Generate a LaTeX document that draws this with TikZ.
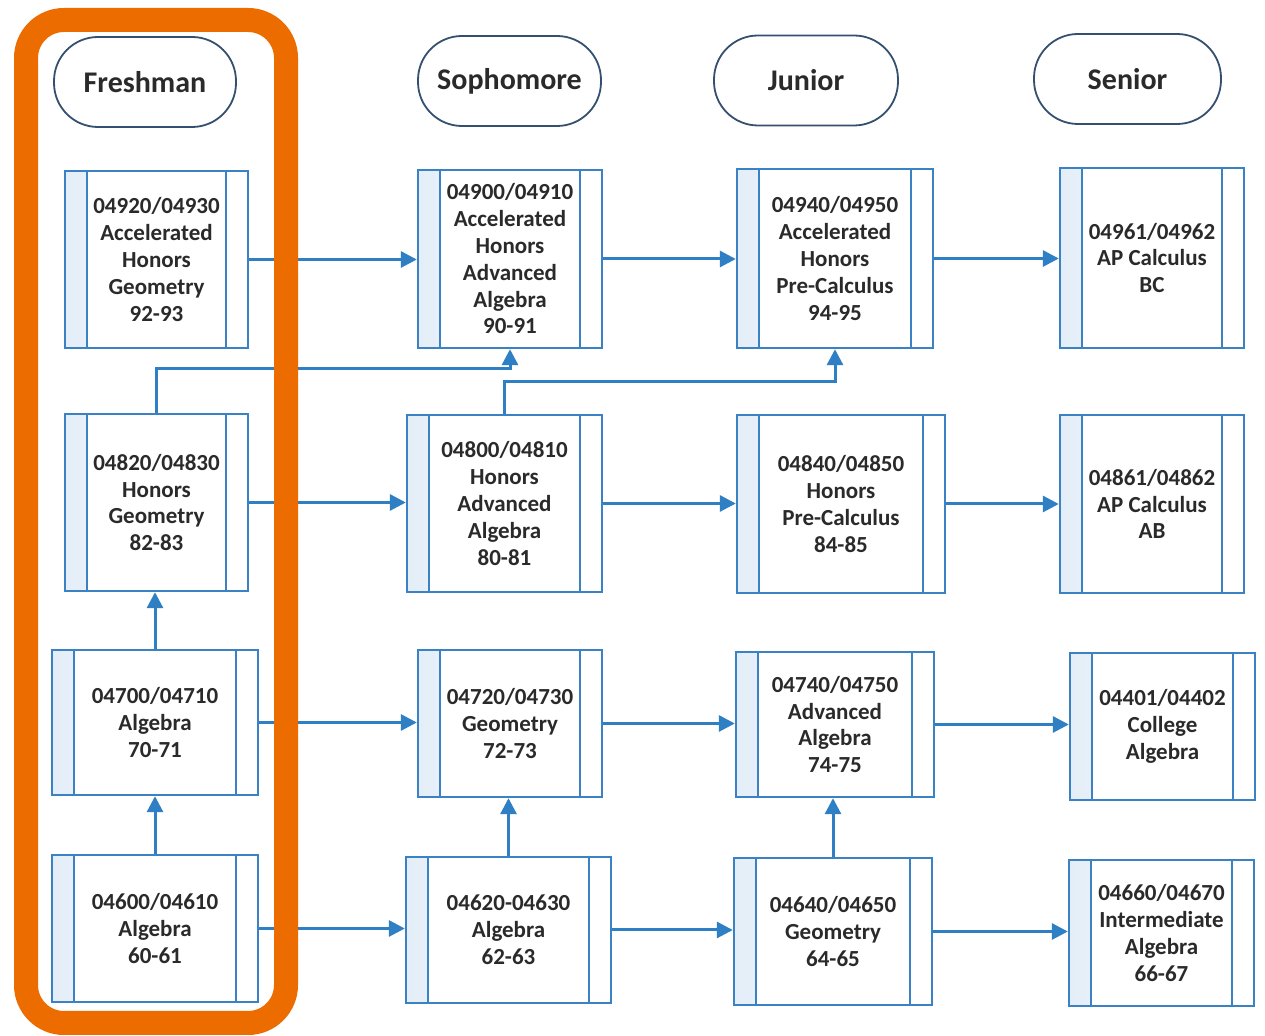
\documentclass[tikz,border=0pt]{standalone}
\usepackage{fontspec}
\setmainfont{Carlito}
\usetikzlibrary{arrows.meta,positioning}
\definecolor{boxblue}{HTML}{3A82C3}
\definecolor{lineblue}{HTML}{2E7FC3}
\definecolor{stripblue}{HTML}{E4EEF8}
\definecolor{ovalline}{HTML}{34506E}
\definecolor{frameorange}{HTML}{EC6C00}
\definecolor{textgray}{HTML}{2A2A2A}
\tikzset{
>={Triangle[length=8pt,width=8pt]},
flow/.style={->, draw=lineblue, line width=1.5pt},
wh/.style 2 args={minimum width=#1*0.5pt, minimum height=#2*0.5pt},
year/.style={draw=ovalline, line width=0.9pt, rounded corners=22pt, wh={183}{90},
  font=\fontsize{15}{18}\selectfont\bfseries, text=textgray},
course/.style={draw=boxblue, line width=1.2pt, fill=white, align=center, inner sep=0pt,
  text=textgray, font=\fontsize{11.5}{13.4}\selectfont\bfseries,
  path picture={
    \shade[left color=stripblue, right color=white] (path picture bounding box.north west) rectangle ([xshift=11pt]path picture bounding box.south west);
    \draw[boxblue, line width=0.9pt] ([xshift=11pt]path picture bounding box.north west) -- ([xshift=11pt]path picture bounding box.south west);
    \draw[boxblue, line width=0.9pt] ([xshift=-11pt]path picture bounding box.north east) -- ([xshift=-11pt]path picture bounding box.south east);
  }},
}

\begin{document}
\begin{tikzpicture}[x=0.5pt,y=-0.5pt]

    \useasboundingbox[fill=white] (0,0) rectangle (1265,1036);

    % years
    \node[year, wh={182}{90}] (fresh) at (145,82) {Freshman};
    \node[year] (soph) at (509.5,81) {Sophomore};
    \node[year, wh={184}{90}] (jun) at (806,80.5) {Junior};
    \node[year, wh={187}{90}] (sen) at (1127.5,79) {Senior};

    % courses
    \node[course, wh={183}{177}] (f1) at (156.5,259.5) {04920/04930\\Accelerated\\Honors\\Geometry\\92-93};
    \node[course, wh={184}{178}] (s1) at (510,259) {04900/04910\\Accelerated\\Honors\\Advanced\\Algebra\\90-91};
    \node[course, wh={196}{179}] (j1) at (835,258.5) {04940/04950\\Accelerated\\Honors\\Pre-Calculus\\94-95};
    \node[course, wh={184}{180}] (r1) at (1152,258) {04961/04962\\AP Calculus\\BC};

    \node[course, wh={183}{177}] (f2) at (156.5,502.5) {04820/04830\\Honors\\Geometry\\82-83};
    \node[course, wh={195}{177}] (s2) at (504.5,503.5) {04800/04810\\Honors\\Advanced\\Algebra\\80-81};
    \node[course, wh={208}{178}] (j2) at (841,504) {04840/04850\\Honors\\Pre-Calculus\\84-85};
    \node[course, wh={184}{178}] (r2) at (1152,504) {04861/04862\\AP Calculus\\AB};

    \node[course, wh={206}{145}] (f3) at (155,722.5) {04700/04710\\Algebra\\70-71};
    \node[course, wh={184}{147}] (s3) at (510,723.5) {04720/04730\\Geometry\\72-73};
    \node[course, wh={198}{145}] (j3) at (835,724.5) {04740/04750\\Advanced\\Algebra\\74-75};
    \node[course, wh={185}{147}] (r3) at (1162.5,726.5) {04401/04402\\College\\Algebra};

    \node[course, wh={206}{147}] (f4) at (155,928.5) {04600/04610\\Algebra\\60-61};
    \node[course, wh={205}{146}] (s4) at (508.5,930) {04620-04630\\Algebra\\62-63};
    \node[course, wh={198}{147}] (j4) at (833,931.5) {04640/04650\\Geometry\\64-65};
    \node[course, wh={185}{146}] (r4) at (1161.5,933) {04660/04670\\Intermediate\\Algebra\\66-67};

    % across
    \draw[flow] (f1.east) -- (f1.east -| s1.west);
    \draw[flow] (s1.east) -- (s1.east -| j1.west);
    \draw[flow] (j1.east) -- (j1.east -| r1.west);
    \draw[flow] (f2.east) -- (f2.east -| s2.west);
    \draw[flow] (s2.east) -- (s2.east -| j2.west);
    \draw[flow] (j2.east) -- (j2.east -| r2.west);
    \draw[flow] (f3.east) -- (f3.east -| s3.west);
    \draw[flow] (s3.east) -- (s3.east -| j3.west);
    \draw[flow] (j3.east) -- (j3.east -| r3.west);
    \draw[flow] (f4.east) -- (f4.east -| s4.west);
    \draw[flow] (s4.east) -- (s4.east -| j4.west);
    \draw[flow] (j4.east) -- (j4.east -| r4.west);

    % up
    \draw[flow] (f4.north) -- (f3.south);
    \draw[flow] (f3.north) -- (f3.north |- f2.south);
    \draw[flow] (s4.north) -- (s4.north |- s3.south);
    \draw[flow] (j4.north) -- (j4.north |- j3.south);
    \draw[flow] (f2.north) -- ++(0,-44) -| (s1.south);
    \draw[flow] (s2.north) -- ++(0,-32) -| (j1.south);

    % freshman frame
    \draw[frameorange, line width=12pt, rounded corners=19pt] (26,20) rectangle (286,1023);

\end{tikzpicture}
\end{document}
